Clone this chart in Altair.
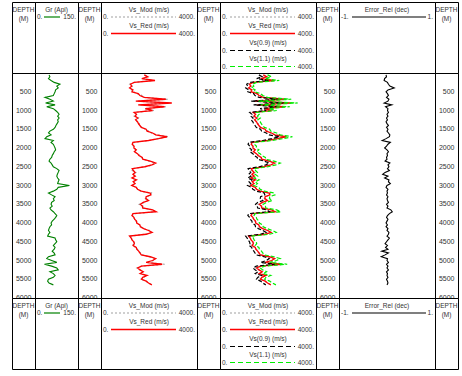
import altair as alt
import pandas as pd

# ---------------- data ----------------
depth = list(range(50, 5700, 50))  # sampling depths (m)

gr_api = [49, 52, 47, 56, 67, 87, 76, 81, 72, 70,
          67, 64, 35, 52, 64, 37, 70, 41, 64, 72,
          79, 84, 79, 84, 79, 81, 77, 73, 70, 64,
          52, 47, 56, 41, 35, 64, 56, 64, 67, 70,
          72, 67, 64, 60, 58, 52, 49, 56, 60, 64,
          76, 84, 81, 78, 76, 79, 84, 81, 79, 120,
          81, 76, 64, 47, 58, 70, 64, 67, 58, 56,
          60, 52, 56, 64, 70, 76, 72, 67, 60, 56,
          58, 52, 49, 47, 52, 47, 44, 70, 72, 76,
          70, 64, 70, 67, 60, 67, 70, 47, 41, 58,
          76, 33, 58, 76, 81, 52, 64, 70, 64, 47,
          44, 49, 64]

vs_mod = [1850, 1900, 1780, 2150, 1400, 1200, 1300, 1250, 1280, 1350,
          1500, 1700, 1750, 2780, 1500, 2850, 1650, 2700, 1800, 2200,
          1420, 1450, 1380, 1560, 1480, 1500, 1600, 1580, 1720, 1850,
          1980, 2100, 2320, 2800, 2350, 2000, 1380, 1320, 1350, 1400,
          1450, 1420, 1500, 1620, 1680, 1780, 2000, 2250, 2150, 1850,
          1330, 1300, 1450, 1350, 1400, 1320, 1450, 1380, 1400, 1300,
          1450, 1550, 1650, 2100, 2050, 1920, 1850, 1950, 1800, 1600,
          1750, 1700, 2200, 2250, 1380, 1300, 1350, 1420, 1450, 1520,
          1600, 1680, 1750, 2050, 2100, 1850, 1220, 1250, 1320, 1350,
          1420, 1300, 1450, 1520, 1550, 1650, 1720, 2000, 2250, 2200,
          1900, 2650, 1700, 1500, 1650, 1720, 1680, 1880, 1780, 1650,
          1900, 1950, 2150]

vs_red = [1800, 1950, 1700, 2250, 1380, 1230, 1280, 1190, 1330, 1290,
          1550, 1620, 1800, 2700, 1450, 2950, 1550, 2650, 1850, 2150,
          1380, 1480, 1420, 1530, 1440, 1520, 1560, 1620, 1680, 1880,
          1920, 2150, 2280, 2750, 2400, 1980, 1330, 1300, 1380, 1370,
          1470, 1390, 1520, 1580, 1720, 1740, 2050, 2280, 2120, 1820,
          1300, 1350, 1420, 1330, 1430, 1290, 1480, 1340, 1420, 1280,
          1470, 1520, 1680, 2050, 2080, 1880, 1870, 1980, 1760, 1640,
          1720, 1740, 2150, 2300, 1330, 1290, 1370, 1400, 1480, 1490,
          1620, 1640, 1780, 1980, 2130, 1880, 1190, 1260, 1290, 1370,
          1390, 1340, 1470, 1490, 1570, 1620, 1680, 2050, 2280, 2150,
          1880, 2550, 1680, 1530, 1620, 1760, 1630, 1920, 1740, 1690,
          1880, 1980, 2120]

vs_09 = [1620, 1760, 1530, 2020, 1240, 1110, 1150, 1070, 1200, 1160,
         1400, 1460, 1620, 2430, 1300, 2660, 1400, 2380, 1670, 1930,
         1240, 1330, 1280, 1380, 1300, 1370, 1400, 1460, 1510, 1690,
         1730, 1930, 2050, 2470, 2160, 1780, 1200, 1170, 1240, 1230,
         1320, 1250, 1370, 1420, 1550, 1570, 1840, 2050, 1910, 1640,
         1170, 1210, 1280, 1200, 1290, 1160, 1330, 1210, 1280, 1150,
         1320, 1370, 1510, 1840, 1870, 1690, 1680, 1780, 1580, 1480,
         1550, 1570, 1930, 2070, 1200, 1160, 1230, 1260, 1330, 1340,
         1460, 1480, 1600, 1780, 1920, 1690, 1070, 1130, 1160, 1230,
         1250, 1210, 1320, 1340, 1410, 1460, 1510, 1840, 2050, 1930,
         1690, 2290, 1510, 1380, 1460, 1580, 1470, 1730, 1570, 1520,
         1690, 1780, 1910]

vs_11 = [1980, 2140, 1870, 2470, 1520, 1350, 1410, 1310, 1460, 1420,
         1700, 1780, 1980, 2970, 1600, 3240, 1700, 2910, 2030, 2360,
         1520, 1630, 1560, 1680, 1580, 1670, 1720, 1780, 1850, 2070,
         2110, 2360, 2510, 3020, 2640, 2180, 1460, 1430, 1520, 1510,
         1620, 1530, 1670, 1740, 1890, 1910, 2250, 2510, 2330, 2000,
         1430, 1480, 1560, 1460, 1570, 1420, 1630, 1470, 1560, 1410,
         1620, 1670, 1850, 2250, 2290, 2070, 2060, 2180, 1940, 1800,
         1890, 1910, 2360, 2530, 1460, 1420, 1510, 1540, 1630, 1640,
         1780, 1800, 1960, 2180, 2340, 2070, 1310, 1390, 1420, 1510,
         1530, 1470, 1620, 1640, 1730, 1780, 1850, 2250, 2510, 2360,
         2070, 2800, 1850, 1680, 1780, 1940, 1790, 2110, 1910, 1860,
         2070, 2180, 2330]

err_rel = [-0.02, -0.01, -0.05, -0.06, 0.01, 0.03, 0.06, 0.15, 0.02, -0.02,
           0.01, 0.03, -0.01, 0.04, 0.02, -0.06, 0.10, -0.03, 0.02, 0.01,
           0.03, 0.0, 0.02, -0.01, 0.01, -0.02, 0.0, 0.03, -0.01, 0.02,
           0.0, 0.03, 0.06, 0.05, -0.02, -0.10, 0.07, 0.02, -0.01, -0.05,
           0.0, 0.03, 0.0, 0.01, -0.01, 0.0, -0.04, 0.06, 0.02, 0.04,
           0.01, 0.05, -0.04, -0.09, 0.02, -0.05, 0.04, 0.03, 0.07, 0.0,
           -0.02, 0.02, 0.0, 0.01, -0.01, 0.02, 0.0, 0.01, 0.03, -0.01,
           0.02, 0.0, 0.08, 0.11, 0.05, 0.01, -0.01, 0.02, 0.0, -0.02,
           0.01, -0.02, 0.02, 0.0, 0.04, 0.03, 0.0, 0.05, 0.02, -0.01,
           -0.04, 0.01, -0.03, 0.02, -0.11, 0.03, -0.04, -0.12, 0.01, 0.0,
           0.03, -0.01, 0.02, 0.0, 0.03, -0.01, 0.01, 0.0, 0.02, -0.01,
           0.01, 0.02, 0.0]

depth_ticks = [500, 1000, 1500, 2000, 2500, 3000, 3500, 4000, 4500, 5000, 5500, 6000]

df = pd.DataFrame(dict(depth=depth, gr=gr_api, vs_mod=vs_mod, vs_red=vs_red,
                       vs_09=vs_09, vs_11=vs_11, err=err_rel))
ticks_df = pd.DataFrame({"d": depth_ticks})

# ---------------- styling ----------------
FONT = "Liberation Sans"
TXT = "#333333"
HDR_H = 71
DATA_H = 225
DW = 23          # depth track width
ONE = alt.Data(values=[{"k": 0}])
TITLE_Y = [7.5, 23.5, 40.5, 56.5]
LINE_Y = [15, 31.5, 48.5, 64.5]


def ysc():
    return alt.Scale(domain=[0, 6000], reverse=True, nice=False, zero=False)


def txt(s, x, y, align="center", size=6.5):
    return alt.Chart(ONE).mark_text(text=s, align=align, baseline="middle",
                                    fontSize=size, font=FONT, color=TXT
                                    ).encode(x=alt.value(x), y=alt.value(y))


def seg(x1, x2, y, color, dash, sw):
    m = dict(color=color, strokeWidth=sw)
    if dash:
        m["strokeDash"] = dash
    return alt.Chart(ONE).mark_rule(**m).encode(x=alt.value(x1), x2=alt.value(x2), y=alt.value(y))


def depth_header():
    return alt.layer(txt("DEPTH", DW / 2, 7.5), txt("(M)", DW / 2, 17)
                     ).properties(width=DW, height=HDR_H)


def curve_header(w, entries):
    layers = []
    for i, (title, lo, hi, x1, x2, color, dash, sw) in enumerate(entries):
        layers.append(txt(title, w / 2, TITLE_Y[i]))
        layers.append(txt(lo, 2, LINE_Y[i], align="left"))
        layers.append(txt(hi, w - 2, LINE_Y[i], align="right"))
        layers.append(seg(x1, x2, LINE_Y[i], color, dash, sw))
    return alt.layer(*layers).properties(width=w, height=HDR_H)


GREY = "#a0a0a0"
RED = "#ff0000"
GRN = "#00ee00"
DGRN = "#008000"

gr_entries = [("Gr (Api)", "0.", "150.", 9, 25, DGRN, None, 1.2)]
vm_entries = [("Vs_Mod (m/s)", "0.", "4000.", 10, 75, GREY, [2, 2], 1.2),
              ("Vs_Red (m/s)", "0.", "4000.", 10, 75, RED, None, 1.4)]
v4_entries = vm_entries + [("Vs(0.9) (m/s)", "0.", "4000.", 10, 75, "black", [5, 3], 1.2),
                           ("Vs(1.1) (m/s)", "0.", "4000.", 10, 75, GRN, [5, 3], 1.2)]
er_entries = [("Error_Rel (dec)", "-1.", "1.", 13, 87, "black", None, 1.2)]


def header_cells():
    return [depth_header(), curve_header(43, gr_entries),
            depth_header(), curve_header(96, vm_entries),
            depth_header(), curve_header(96, v4_entries),
            depth_header(), curve_header(96, er_entries),
            depth_header()]


def depth_panel():
    return alt.Chart(ticks_df).mark_text(
        align="right", baseline="middle", fontSize=7, font=FONT, color=TXT, clip=True
    ).encode(
        y=alt.Y("d:Q", scale=ysc(), axis=None),
        x=alt.value(19.5),
        text=alt.Text("d:Q", format="d"),
    ).properties(width=DW, height=DATA_H)


def curve(field, color, dom, dash=None, sw=1.0):
    m = dict(color=color, strokeWidth=sw)
    if dash:
        m["strokeDash"] = dash
    return alt.Chart(df).mark_line(**m).encode(
        x=alt.X(f"{field}:Q", scale=alt.Scale(domain=dom, nice=False, zero=False), axis=None),
        y=alt.Y("depth:Q", scale=ysc(), axis=None),
        order=alt.Order("depth:Q"),
    )


VDOM = [0, 4000]
gr_panel = curve("gr", DGRN, [0, 150], sw=1.1).properties(width=43, height=DATA_H)
vm_panel = alt.layer(curve("vs_mod", GREY, VDOM, [2, 2], 1.2),
                     curve("vs_red", RED, VDOM, None, 1.3)).properties(width=96, height=DATA_H)
v4_panel = alt.layer(curve("vs_mod", GREY, VDOM, [2, 2], 1.2),
                     curve("vs_red", RED, VDOM, None, 1.3),
                     curve("vs_09", "black", VDOM, [4, 2], 1.2),
                     curve("vs_11", GRN, VDOM, [4, 2], 1.2)).properties(width=96, height=DATA_H)
er_panel = curve("err", "black", [-1, 1], sw=1.1).properties(width=96, height=DATA_H)

data_cells = [depth_panel(), gr_panel, depth_panel(), vm_panel,
              depth_panel(), v4_panel, depth_panel(), er_panel, depth_panel()]

chart = alt.concat(*(header_cells() + data_cells + header_cells()),
                   columns=9, spacing=0, bounds="flush", align="each"
                   ).configure_view(stroke="black", strokeWidth=1
                   ).properties(padding={"left": 11, "top": 1, "right": 0, "bottom": 0},
                                background="white")

chart.save("out.html", embed_options={"renderer": "svg", "actions": False})
